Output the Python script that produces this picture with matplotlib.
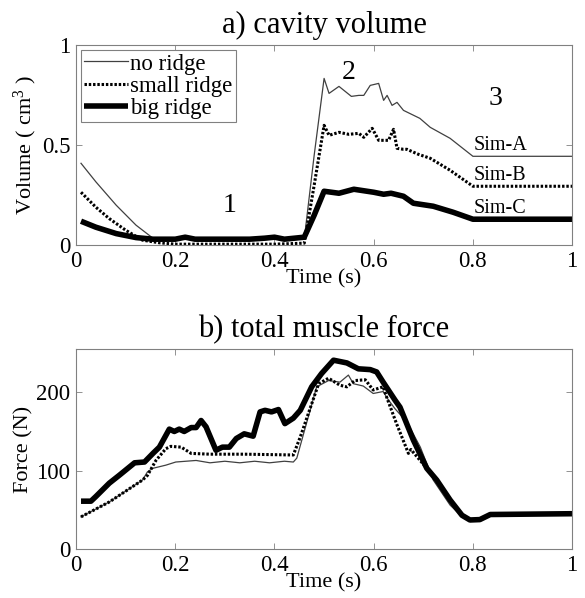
import numpy as np
import matplotlib
matplotlib.use('Agg')
import matplotlib.pyplot as plt

plt.rcParams['font.family'] = ['Liberation Serif', 'DejaVu Serif']
plt.rcParams['mathtext.fontset'] = 'custom'
plt.rcParams['mathtext.rm'] = 'Liberation Serif'
plt.rcParams['mathtext.it'] = 'Liberation Serif:italic'

# a) cavity volume (cm^3)
tA = [0.01, 0.04, 0.081, 0.121, 0.155, 0.2, 0.25, 0.3, 0.35, 0.4, 0.46, 0.48, 0.5, 0.51, 0.53, 0.555,
      0.57, 0.58, 0.593, 0.61, 0.62, 0.627, 0.637, 0.647, 0.66, 0.693, 0.714, 0.754, 0.8, 1.0]
volA = [0.41, 0.317, 0.2, 0.1, 0.035, 0.03, 0.03, 0.03, 0.03, 0.03, 0.03, 0.45, 0.835, 0.76, 0.795, 0.745,
        0.75, 0.75, 0.80, 0.81, 0.725, 0.75, 0.70, 0.715, 0.675, 0.635, 0.59, 0.535, 0.445, 0.445]
tB = [0.01, 0.04, 0.067, 0.1, 0.134, 0.168, 0.2, 0.25, 0.3, 0.35, 0.4, 0.46, 0.48, 0.5, 0.51, 0.53, 0.55,
      0.57, 0.58, 0.597, 0.61, 0.63, 0.64, 0.647, 0.66, 0.667, 0.69, 0.714, 0.754, 0.8, 1.0]
volB = [0.265, 0.19, 0.133, 0.075, 0.025, 0.012, 0.005, 0.005, 0.005, 0.005, 0.005, 0.01, 0.3, 0.60, 0.55,
        0.565, 0.555, 0.56, 0.54, 0.585, 0.525, 0.525, 0.58, 0.485, 0.48, 0.48, 0.455, 0.435, 0.375,
        0.295, 0.295]
tC = [0.01, 0.04, 0.081, 0.121, 0.155, 0.2, 0.22, 0.24, 0.3, 0.35, 0.38, 0.4, 0.42, 0.44, 0.46, 0.48, 0.5,
      0.53, 0.56, 0.6, 0.62, 0.635, 0.66, 0.68, 0.72, 0.76, 0.8, 1.0]
volC = [0.12, 0.09, 0.058, 0.038, 0.03, 0.03, 0.04, 0.03, 0.03, 0.03, 0.035, 0.04, 0.03, 0.035, 0.04, 0.15,
        0.27, 0.26, 0.28, 0.265, 0.255, 0.26, 0.245, 0.21, 0.195, 0.165, 0.13, 0.13]

# b) total muscle force (N)
fA_t = [0.01, 0.067, 0.134, 0.144, 0.155, 0.181, 0.201, 0.242, 0.27, 0.3, 0.33, 0.36, 0.39, 0.42, 0.438,
        0.445, 0.485, 0.509, 0.532, 0.549, 0.559, 0.579, 0.599, 0.619, 0.63, 0.643, 0.667, 0.694, 0.72,
        0.754, 0.782, 0.794, 0.814, 0.835, 1.0]
fA = [41, 60, 88, 98.5, 103, 107, 111, 113, 110, 112, 110, 112, 110, 112, 111,
      116, 207, 215, 213, 222, 211, 208, 198.5, 201, 190, 179, 162, 130, 88,
      56, 39, 37, 37.5, 44, 45]
fB_t = [0.01, 0.067, 0.134, 0.144, 0.161, 0.181, 0.191, 0.212, 0.232, 0.27, 0.34, 0.438, 0.452, 0.489,
        0.509, 0.532, 0.546, 0.562, 0.583, 0.599, 0.619, 0.626, 0.646, 0.67, 0.675, 0.707, 0.727, 0.754,
        0.778, 0.794, 0.814, 0.835, 1.0]
fB = [41, 60, 88, 94, 113, 128, 131, 130, 122, 121, 121, 120, 143, 211,
      218, 209, 207, 215, 216, 203, 207, 194, 160, 122, 127, 103, 88, 62,
      43, 37, 37.5, 44, 45]
fC_t = [0.01, 0.03, 0.04, 0.067, 0.087, 0.118, 0.138, 0.155, 0.168, 0.188, 0.198, 0.208, 0.218, 0.232,
        0.242, 0.252, 0.262, 0.282, 0.295, 0.309, 0.323, 0.339, 0.357, 0.371, 0.381, 0.394, 0.408,
        0.421, 0.438, 0.452, 0.475, 0.495, 0.519, 0.546, 0.569, 0.593, 0.606, 0.619, 0.643, 0.653,
        0.68, 0.707, 0.727, 0.754, 0.778, 0.794, 0.814, 0.835, 1.0]
fC = [61, 61, 67, 84, 94, 110, 111, 122, 130, 153, 150, 153, 150, 155,
      155, 164, 156, 126, 130, 130, 141, 147, 144, 175, 177, 175, 178,
      160, 167, 177, 207, 224, 241, 237.5, 230, 229, 226, 213, 190, 181,
      139, 103, 88, 62.5, 43, 37, 37.5, 44, 45]

xticks = [0, 0.2, 0.4, 0.6, 0.8, 1]
xticklabels = ['0', '0.2', '0.4', '0.6', '0.8', '1']

fig = plt.figure(figsize=(5.85, 5.98), dpi=100)
ax1 = fig.add_axes([0.130, 0.590, 0.848, 0.334])
ax2 = fig.add_axes([0.130, 0.082, 0.848, 0.334])

thin = dict(color='#404040', lw=0.9)
dots = dict(color='black', lw=2.2, ls=(0, (0.8, 0.6)))
thick = dict(color='black', lw=4.0, solid_capstyle='butt')

ax1.plot(tA, volA, label='no ridge', **thin)
ax1.plot(tB, volB, label='small ridge', **dots)
ax1.plot(tC, volC, label='big ridge', **thick)
ax1.set_xlim(0, 1)
ax1.set_ylim(0, 1)
ax1.set_yticks([0, 0.5, 1])
ax1.set_yticklabels(['0', '0.5', '1'])
ax1.set_ylabel('Volume ( cm$^3$ )', fontsize=16, labelpad=2)
ax1.set_title('a) cavity volume', fontsize=22, pad=9)
leg = ax1.legend(loc='upper left', fontsize=16.5, handlelength=1.9, handletextpad=0.1,
                 borderpad=0.15, labelspacing=0.05, borderaxespad=0.2, fancybox=False,
                 framealpha=1, edgecolor='#808080')
leg.get_frame().set_linewidth(0.8)

ax1.text(0.31, 0.2, '1', fontsize=20, ha='center', va='center')
ax1.text(0.55, 0.865, '2', fontsize=20, ha='center', va='center')
ax1.text(0.845, 0.735, '3', fontsize=20, ha='center', va='center')
ax1.text(0.802, 0.452, 'Sim-A', fontsize=14.5, ha='left', va='bottom')
ax1.text(0.802, 0.302, 'Sim-B', fontsize=14.5, ha='left', va='bottom')
ax1.text(0.802, 0.137, 'Sim-C', fontsize=14.5, ha='left', va='bottom')

ax2.plot(fA_t, fA, **thin)
ax2.plot(fB_t, fB, **dots)
ax2.plot(fC_t, fC, **thick)
ax2.set_xlim(0, 1)
ax2.set_ylim(0, 255)
ax2.set_yticks([0, 100, 200])
ax2.set_ylabel('Force (N)', fontsize=16, labelpad=2)
ax2.set_title('b) total muscle force', fontsize=22, pad=9)

for ax in (ax1, ax2):
    ax.set_xticks(xticks)
    ax.set_xticklabels(xticklabels)
    ax.set_xlabel('Time (s)', fontsize=16, labelpad=-2)
    ax.tick_params(direction='in', top=True, right=True, length=4, width=0.6,
                   color='#808080', labelsize=16.5)
    ax.tick_params(axis='x', pad=4)
    ax.tick_params(axis='y', pad=4)
    for s in ax.spines.values():
        s.set_color('#808080')
        s.set_linewidth(0.8)

fig.savefig('out.png', dpi=100)
